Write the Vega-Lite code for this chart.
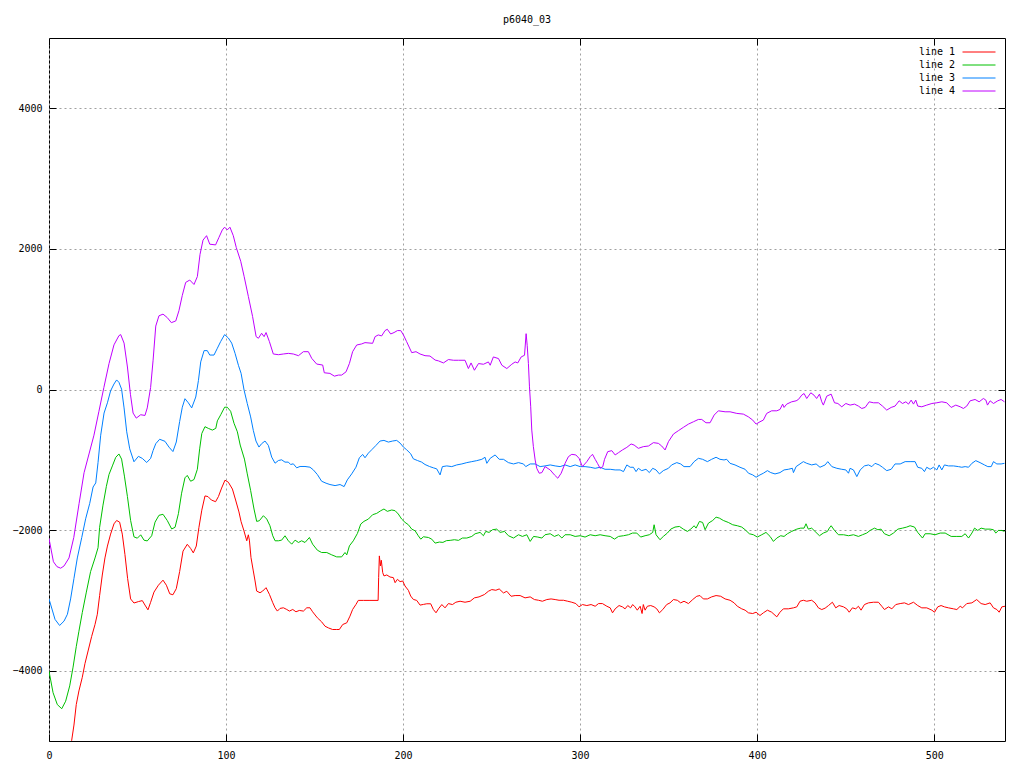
{
"$schema":"https://vega.github.io/schema/vega-lite/v6.json",
"width":956,"height":703,
"autosize":{"type":"none"},
"padding":{"left":49,"top":38,"right":19,"bottom":27},
"background":"white",
"title":{"text":"p6040_03","font":"DejaVu Sans Mono","fontSize":10,"fontWeight":"normal","color":"black","offset":13,"anchor":"middle"},
"config":{"view":{"stroke":"black","strokeWidth":1},
"axis":{"labelFont":"DejaVu Sans Mono","labelFontSize":10,"labelColor":"black","tickColor":"black","tickSize":-7,"tickWidth":1,"gridColor":"#a0a0a0","gridDash":[2,3],"gridWidth":1,"domain":false,"title":null}},
"datasets":{"d":[
{"s":"line 1","x":0,"y":-5050},{"s":"line 1","x":3,"y":-5350},{"s":"line 1","x":6.5,"y":-5520},{"s":"line 1","x":10,"y":-5300},{"s":"line 1","x":12.8,"y":-4992},{"s":"line 1","x":14.1,"y":-4773},{"s":"line 1","x":15.4,"y":-4482},{"s":"line 1","x":16.9,"y":-4288},{"s":"line 1","x":18.8,"y":-4094},{"s":"line 1","x":20.3,"y":-3900},{"s":"line 1","x":22.2,"y":-3706},{"s":"line 1","x":24.1,"y":-3512},{"s":"line 1","x":26,"y":-3342},{"s":"line 1","x":27.3,"y":-3197},{"s":"line 1","x":28.6,"y":-2930},{"s":"line 1","x":30.1,"y":-2639},{"s":"line 1","x":31.6,"y":-2396},{"s":"line 1","x":33,"y":-2227},{"s":"line 1","x":34.8,"y":-2057},{"s":"line 1","x":36.7,"y":-1911},{"s":"line 1","x":38.2,"y":-1863},{"s":"line 1","x":39.9,"y":-1887},{"s":"line 1","x":41.4,"y":-2057},{"s":"line 1","x":42.9,"y":-2348},{"s":"line 1","x":44.4,"y":-2687},{"s":"line 1","x":46.1,"y":-2979},{"s":"line 1","x":48,"y":-3037},{"s":"line 1","x":50.5,"y":-3017},{"s":"line 1","x":52.7,"y":-3003},{"s":"line 1","x":54.2,"y":-3066},{"s":"line 1","x":55.9,"y":-3134},{"s":"line 1","x":57.4,"y":-3027},{"s":"line 1","x":59.3,"y":-2882},{"s":"line 1","x":61.8,"y":-2784},{"s":"line 1","x":64.4,"y":-2712},{"s":"line 1","x":66.3,"y":-2784},{"s":"line 1","x":68.2,"y":-2906},{"s":"line 1","x":70,"y":-2920},{"s":"line 1","x":71.9,"y":-2833},{"s":"line 1","x":73.8,"y":-2590},{"s":"line 1","x":75.7,"y":-2299},{"s":"line 1","x":78.1,"y":-2202},{"s":"line 1","x":80,"y":-2261},{"s":"line 1","x":81.5,"y":-2324},{"s":"line 1","x":83.2,"y":-2227},{"s":"line 1","x":84.7,"y":-1960},{"s":"line 1","x":86.3,"y":-1717},{"s":"line 1","x":88.1,"y":-1514},{"s":"line 1","x":89.8,"y":-1523},{"s":"line 1","x":91.7,"y":-1572},{"s":"line 1","x":94.1,"y":-1596},{"s":"line 1","x":95.7,"y":-1523},{"s":"line 1","x":97.5,"y":-1402},{"s":"line 1","x":99.4,"y":-1290},{"s":"line 1","x":101.3,"y":-1319},{"s":"line 1","x":103.6,"y":-1416},{"s":"line 1","x":105.4,"y":-1572},{"s":"line 1","x":107.3,"y":-1742},{"s":"line 1","x":108.5,"y":-1880},{"s":"line 1","x":110,"y":-2000},{"s":"line 1","x":111.7,"y":-2152},{"s":"line 1","x":112.6,"y":-2067},{"s":"line 1","x":113.2,"y":-2143},{"s":"line 1","x":114.1,"y":-2391},{"s":"line 1","x":115.4,"y":-2581},{"s":"line 1","x":116.4,"y":-2724},{"s":"line 1","x":117.3,"y":-2867},{"s":"line 1","x":119.2,"y":-2891},{"s":"line 1","x":120.7,"y":-2867},{"s":"line 1","x":122.6,"y":-2819},{"s":"line 1","x":124.5,"y":-2914},{"s":"line 1","x":126.4,"y":-3033},{"s":"line 1","x":127.7,"y":-3105},{"s":"line 1","x":129,"y":-3152},{"s":"line 1","x":130.5,"y":-3114},{"s":"line 1","x":132.4,"y":-3105},{"s":"line 1","x":134.3,"y":-3129},{"s":"line 1","x":135.8,"y":-3152},{"s":"line 1","x":137.7,"y":-3129},{"s":"line 1","x":139.5,"y":-3162},{"s":"line 1","x":141.4,"y":-3143},{"s":"line 1","x":143.7,"y":-3152},{"s":"line 1","x":145.6,"y":-3105},{"s":"line 1","x":147.4,"y":-3105},{"s":"line 1","x":148.9,"y":-3162},{"s":"line 1","x":151.6,"y":-3248},{"s":"line 1","x":154,"y":-3305},{"s":"line 1","x":155.9,"y":-3367},{"s":"line 1","x":157.8,"y":-3391},{"s":"line 1","x":160.2,"y":-3414},{"s":"line 1","x":162.5,"y":-3414},{"s":"line 1","x":164,"y":-3414},{"s":"line 1","x":165.9,"y":-3343},{"s":"line 1","x":168.2,"y":-3319},{"s":"line 1","x":170,"y":-3224},{"s":"line 1","x":171.5,"y":-3129},{"s":"line 1","x":173.4,"y":-3057},{"s":"line 1","x":174.7,"y":-3000},{"s":"line 1","x":177.6,"y":-3000},{"s":"line 1","x":181.3,"y":-3000},{"s":"line 1","x":185.9,"y":-3000},{"s":"line 1","x":186.2,"y":-2676},{"s":"line 1","x":186.6,"y":-2367},{"s":"line 1","x":187.2,"y":-2510},{"s":"line 1","x":187.7,"y":-2429},{"s":"line 1","x":188.5,"y":-2605},{"s":"line 1","x":189.2,"y":-2652},{"s":"line 1","x":190.8,"y":-2638},{"s":"line 1","x":192.6,"y":-2667},{"s":"line 1","x":194.5,"y":-2676},{"s":"line 1","x":195.5,"y":-2748},{"s":"line 1","x":196.8,"y":-2700},{"s":"line 1","x":198.3,"y":-2733},{"s":"line 1","x":199.8,"y":-2724},{"s":"line 1","x":201.1,"y":-2795},{"s":"line 1","x":203,"y":-2857},{"s":"line 1","x":204.3,"y":-2938},{"s":"line 1","x":205.8,"y":-2986},{"s":"line 1","x":207.7,"y":-3000},{"s":"line 1","x":209.6,"y":-3067},{"s":"line 1","x":211.5,"y":-3057},{"s":"line 1","x":213.4,"y":-3048},{"s":"line 1","x":215.6,"y":-3048},{"s":"line 1","x":217.1,"y":-3129},{"s":"line 1","x":218.6,"y":-3176},{"s":"line 1","x":220,"y":-3120},{"s":"line 1","x":221.9,"y":-3059},{"s":"line 1","x":223.7,"y":-3106},{"s":"line 1","x":225.6,"y":-3045},{"s":"line 1","x":227.9,"y":-3059},{"s":"line 1","x":229.8,"y":-3026},{"s":"line 1","x":232.2,"y":-3012},{"s":"line 1","x":235,"y":-3026},{"s":"line 1","x":237.9,"y":-3012},{"s":"line 1","x":240.3,"y":-2964},{"s":"line 1","x":242.9,"y":-2950},{"s":"line 1","x":245.9,"y":-2917},{"s":"line 1","x":248.2,"y":-2870},{"s":"line 1","x":250.1,"y":-2846},{"s":"line 1","x":252.4,"y":-2856},{"s":"line 1","x":254.3,"y":-2837},{"s":"line 1","x":256.7,"y":-2894},{"s":"line 1","x":258.6,"y":-2870},{"s":"line 1","x":261,"y":-2941},{"s":"line 1","x":263.3,"y":-2931},{"s":"line 1","x":266.1,"y":-2931},{"s":"line 1","x":268.9,"y":-2964},{"s":"line 1","x":271.8,"y":-2950},{"s":"line 1","x":274.2,"y":-2988},{"s":"line 1","x":276.5,"y":-2998},{"s":"line 1","x":278.7,"y":-3012},{"s":"line 1","x":281.2,"y":-2988},{"s":"line 1","x":283.6,"y":-2979},{"s":"line 1","x":285.9,"y":-2988},{"s":"line 1","x":288.1,"y":-2998},{"s":"line 1","x":290.6,"y":-2998},{"s":"line 1","x":293,"y":-3012},{"s":"line 1","x":295.3,"y":-3026},{"s":"line 1","x":297.6,"y":-3045},{"s":"line 1","x":299.4,"y":-3092},{"s":"line 1","x":301.3,"y":-3059},{"s":"line 1","x":303.8,"y":-3073},{"s":"line 1","x":306.2,"y":-3059},{"s":"line 1","x":308.5,"y":-3083},{"s":"line 1","x":310.4,"y":-3045},{"s":"line 1","x":312.6,"y":-3045},{"s":"line 1","x":315.1,"y":-3083},{"s":"line 1","x":317,"y":-3106},{"s":"line 1","x":318.3,"y":-3177},{"s":"line 1","x":319.8,"y":-3120},{"s":"line 1","x":322,"y":-3073},{"s":"line 1","x":323.9,"y":-3092},{"s":"line 1","x":325.4,"y":-3120},{"s":"line 1","x":326.9,"y":-3073},{"s":"line 1","x":328.5,"y":-3106},{"s":"line 1","x":329.7,"y":-3059},{"s":"line 1","x":331,"y":-3092},{"s":"line 1","x":332.3,"y":-3139},{"s":"line 1","x":333.9,"y":-3083},{"s":"line 1","x":335,"y":-3187},{"s":"line 1","x":335.7,"y":-3059},{"s":"line 1","x":336.7,"y":-3139},{"s":"line 1","x":338,"y":-3083},{"s":"line 1","x":339.9,"y":-3073},{"s":"line 1","x":341.8,"y":-3092},{"s":"line 1","x":343.3,"y":-3120},{"s":"line 1","x":344.8,"y":-3177},{"s":"line 1","x":346.7,"y":-3130},{"s":"line 1","x":348.9,"y":-3059},{"s":"line 1","x":350.8,"y":-3035},{"s":"line 1","x":352.7,"y":-2988},{"s":"line 1","x":354.9,"y":-2998},{"s":"line 1","x":356.8,"y":-3035},{"s":"line 1","x":358.7,"y":-3012},{"s":"line 1","x":361.2,"y":-3045},{"s":"line 1","x":363.6,"y":-2988},{"s":"line 1","x":365.9,"y":-2941},{"s":"line 1","x":367.7,"y":-2931},{"s":"line 1","x":369.6,"y":-2979},{"s":"line 1","x":371.9,"y":-2979},{"s":"line 1","x":374.3,"y":-2950},{"s":"line 1","x":376.8,"y":-2931},{"s":"line 1","x":379.4,"y":-2941},{"s":"line 1","x":381.9,"y":-2979},{"s":"line 1","x":384.7,"y":-2998},{"s":"line 1","x":387,"y":-3035},{"s":"line 1","x":388.8,"y":-3083},{"s":"line 1","x":391.3,"y":-3120},{"s":"line 1","x":393.2,"y":-3139},{"s":"line 1","x":395.1,"y":-3177},{"s":"line 1","x":397.5,"y":-3187},{"s":"line 1","x":399.4,"y":-3168},{"s":"line 1","x":401.6,"y":-3215},{"s":"line 1","x":403.5,"y":-3177},{"s":"line 1","x":405.8,"y":-3139},{"s":"line 1","x":408.2,"y":-3168},{"s":"line 1","x":411.1,"y":-3234},{"s":"line 1","x":412.9,"y":-3168},{"s":"line 1","x":414.8,"y":-3120},{"s":"line 1","x":417.6,"y":-3120},{"s":"line 1","x":420.5,"y":-3106},{"s":"line 1","x":422.4,"y":-3092},{"s":"line 1","x":424.2,"y":-3012},{"s":"line 1","x":426.1,"y":-2998},{"s":"line 1","x":428,"y":-3012},{"s":"line 1","x":430.8,"y":-2998},{"s":"line 1","x":432.7,"y":-3035},{"s":"line 1","x":434.6,"y":-3106},{"s":"line 1","x":436.5,"y":-3130},{"s":"line 1","x":438.4,"y":-3110},{"s":"line 1","x":440.3,"y":-3073},{"s":"line 1","x":442.5,"y":-3026},{"s":"line 1","x":444.4,"y":-3106},{"s":"line 1","x":446.3,"y":-3073},{"s":"line 1","x":448.8,"y":-3092},{"s":"line 1","x":450.6,"y":-3120},{"s":"line 1","x":452,"y":-3168},{"s":"line 1","x":453.8,"y":-3106},{"s":"line 1","x":455.7,"y":-3120},{"s":"line 1","x":457.2,"y":-3083},{"s":"line 1","x":458.7,"y":-3139},{"s":"line 1","x":460.6,"y":-3059},{"s":"line 1","x":462.9,"y":-3035},{"s":"line 1","x":465.7,"y":-3026},{"s":"line 1","x":468.5,"y":-3026},{"s":"line 1","x":470.4,"y":-3083},{"s":"line 1","x":471.9,"y":-3130},{"s":"line 1","x":474.2,"y":-3092},{"s":"line 1","x":476.1,"y":-3120},{"s":"line 1","x":478.3,"y":-3059},{"s":"line 1","x":480.8,"y":-3045},{"s":"line 1","x":483.2,"y":-3035},{"s":"line 1","x":485.5,"y":-3059},{"s":"line 1","x":488.3,"y":-3026},{"s":"line 1","x":490.7,"y":-3073},{"s":"line 1","x":493,"y":-3106},{"s":"line 1","x":495.8,"y":-3106},{"s":"line 1","x":498.7,"y":-3139},{"s":"line 1","x":500.2,"y":-3168},{"s":"line 1","x":502,"y":-3092},{"s":"line 1","x":503.9,"y":-3073},{"s":"line 1","x":505.8,"y":-3092},{"s":"line 1","x":508.1,"y":-3106},{"s":"line 1","x":510.9,"y":-3120},{"s":"line 1","x":512.8,"y":-3130},{"s":"line 1","x":514.7,"y":-3083},{"s":"line 1","x":516,"y":-3106},{"s":"line 1","x":518.4,"y":-3045},{"s":"line 1","x":521.3,"y":-3035},{"s":"line 1","x":524,"y":-2988},{"s":"line 1","x":526.5,"y":-3045},{"s":"line 1","x":528.8,"y":-3059},{"s":"line 1","x":531.6,"y":-3035},{"s":"line 1","x":533.5,"y":-3106},{"s":"line 1","x":535.4,"y":-3130},{"s":"line 1","x":536.7,"y":-3168},{"s":"line 1","x":538.2,"y":-3092},{"s":"line 1","x":540,"y":-3083},
{"s":"line 2","x":0,"y":-4007},{"s":"line 2","x":2.3,"y":-4313},{"s":"line 2","x":4.7,"y":-4482},{"s":"line 2","x":7.2,"y":-4541},{"s":"line 2","x":9.4,"y":-4434},{"s":"line 2","x":11.7,"y":-4216},{"s":"line 2","x":13.6,"y":-3949},{"s":"line 2","x":15.4,"y":-3658},{"s":"line 2","x":16.9,"y":-3439},{"s":"line 2","x":18.8,"y":-3173},{"s":"line 2","x":21.1,"y":-2882},{"s":"line 2","x":23.5,"y":-2590},{"s":"line 2","x":26,"y":-2396},{"s":"line 2","x":27.7,"y":-2251},{"s":"line 2","x":28.6,"y":-1960},{"s":"line 2","x":30.5,"y":-1645},{"s":"line 2","x":32.4,"y":-1378},{"s":"line 2","x":33.9,"y":-1208},{"s":"line 2","x":35.8,"y":-1087},{"s":"line 2","x":37.7,"y":-965},{"s":"line 2","x":39.5,"y":-917},{"s":"line 2","x":41,"y":-990},{"s":"line 2","x":42.6,"y":-1232},{"s":"line 2","x":44.3,"y":-1523},{"s":"line 2","x":46.1,"y":-1863},{"s":"line 2","x":48,"y":-2096},{"s":"line 2","x":49.9,"y":-2115},{"s":"line 2","x":51.8,"y":-2067},{"s":"line 2","x":53.7,"y":-2144},{"s":"line 2","x":55.5,"y":-2154},{"s":"line 2","x":58,"y":-2081},{"s":"line 2","x":59.9,"y":-1887},{"s":"line 2","x":62.1,"y":-1790},{"s":"line 2","x":64.4,"y":-1775},{"s":"line 2","x":66.8,"y":-1863},{"s":"line 2","x":69.3,"y":-1984},{"s":"line 2","x":71.2,"y":-1960},{"s":"line 2","x":73.1,"y":-1766},{"s":"line 2","x":74.9,"y":-1475},{"s":"line 2","x":76.8,"y":-1256},{"s":"line 2","x":78.1,"y":-1222},{"s":"line 2","x":80,"y":-1305},{"s":"line 2","x":81.9,"y":-1281},{"s":"line 2","x":83.8,"y":-1135},{"s":"line 2","x":85.1,"y":-844},{"s":"line 2","x":86.3,"y":-626},{"s":"line 2","x":88.1,"y":-529},{"s":"line 2","x":90,"y":-553},{"s":"line 2","x":92.3,"y":-577},{"s":"line 2","x":94.2,"y":-553},{"s":"line 2","x":95.1,"y":-446},{"s":"line 2","x":97,"y":-359},{"s":"line 2","x":99.2,"y":-252},{"s":"line 2","x":100.7,"y":-252},{"s":"line 2","x":102.6,"y":-310},{"s":"line 2","x":104.5,"y":-480},{"s":"line 2","x":106.4,"y":-602},{"s":"line 2","x":108,"y":-790},{"s":"line 2","x":110.4,"y":-990},{"s":"line 2","x":112,"y":-1200},{"s":"line 2","x":113.9,"y":-1438},{"s":"line 2","x":115.8,"y":-1700},{"s":"line 2","x":117.3,"y":-1876},{"s":"line 2","x":118.8,"y":-1867},{"s":"line 2","x":121.1,"y":-1795},{"s":"line 2","x":123,"y":-1843},{"s":"line 2","x":124.8,"y":-1938},{"s":"line 2","x":126.4,"y":-2081},{"s":"line 2","x":127.7,"y":-2152},{"s":"line 2","x":129.6,"y":-2152},{"s":"line 2","x":131.4,"y":-2143},{"s":"line 2","x":133.3,"y":-2081},{"s":"line 2","x":135.2,"y":-2152},{"s":"line 2","x":137.1,"y":-2200},{"s":"line 2","x":139,"y":-2143},{"s":"line 2","x":140.9,"y":-2176},{"s":"line 2","x":142.7,"y":-2152},{"s":"line 2","x":144.6,"y":-2176},{"s":"line 2","x":147.1,"y":-2105},{"s":"line 2","x":148.9,"y":-2200},{"s":"line 2","x":151.6,"y":-2286},{"s":"line 2","x":154,"y":-2319},{"s":"line 2","x":156.9,"y":-2319},{"s":"line 2","x":159.7,"y":-2352},{"s":"line 2","x":162.5,"y":-2381},{"s":"line 2","x":165.3,"y":-2381},{"s":"line 2","x":167.2,"y":-2319},{"s":"line 2","x":168.2,"y":-2352},{"s":"line 2","x":169.7,"y":-2224},{"s":"line 2","x":171.9,"y":-2152},{"s":"line 2","x":174.2,"y":-2048},{"s":"line 2","x":176.1,"y":-1914},{"s":"line 2","x":177.9,"y":-1876},{"s":"line 2","x":180.4,"y":-1843},{"s":"line 2","x":182.8,"y":-1781},{"s":"line 2","x":185.1,"y":-1762},{"s":"line 2","x":187.4,"y":-1724},{"s":"line 2","x":189.2,"y":-1700},{"s":"line 2","x":191.1,"y":-1733},{"s":"line 2","x":193.6,"y":-1714},{"s":"line 2","x":195.5,"y":-1724},{"s":"line 2","x":197.3,"y":-1771},{"s":"line 2","x":199.2,"y":-1843},{"s":"line 2","x":201.1,"y":-1890},{"s":"line 2","x":203,"y":-1924},{"s":"line 2","x":204.9,"y":-1986},{"s":"line 2","x":206.8,"y":-2010},{"s":"line 2","x":208.6,"y":-2081},{"s":"line 2","x":210,"y":-2129},{"s":"line 2","x":211.5,"y":-2095},{"s":"line 2","x":214.3,"y":-2105},{"s":"line 2","x":216.2,"y":-2129},{"s":"line 2","x":218.1,"y":-2185},{"s":"line 2","x":220.5,"y":-2170},{"s":"line 2","x":222.5,"y":-2175},{"s":"line 2","x":224.5,"y":-2150},{"s":"line 2","x":226.6,"y":-2146},{"s":"line 2","x":229,"y":-2137},{"s":"line 2","x":231.3,"y":-2146},{"s":"line 2","x":233.5,"y":-2113},{"s":"line 2","x":236,"y":-2113},{"s":"line 2","x":238.8,"y":-2090},{"s":"line 2","x":240.7,"y":-2052},{"s":"line 2","x":243.5,"y":-2033},{"s":"line 2","x":245.4,"y":-2080},{"s":"line 2","x":246.7,"y":-2019},{"s":"line 2","x":248.6,"y":-2033},{"s":"line 2","x":250.5,"y":-1995},{"s":"line 2","x":252.9,"y":-1986},{"s":"line 2","x":254.8,"y":-2033},{"s":"line 2","x":257.3,"y":-2019},{"s":"line 2","x":259.5,"y":-2080},{"s":"line 2","x":262.4,"y":-2113},{"s":"line 2","x":265.2,"y":-2066},{"s":"line 2","x":267.4,"y":-2090},{"s":"line 2","x":269.9,"y":-2066},{"s":"line 2","x":271.8,"y":-2161},{"s":"line 2","x":273.7,"y":-2090},{"s":"line 2","x":276.1,"y":-2099},{"s":"line 2","x":278.4,"y":-2113},{"s":"line 2","x":280.2,"y":-2066},{"s":"line 2","x":283.1,"y":-2052},{"s":"line 2","x":285.5,"y":-2090},{"s":"line 2","x":287.8,"y":-2066},{"s":"line 2","x":289.7,"y":-2113},{"s":"line 2","x":291.5,"y":-2066},{"s":"line 2","x":294.4,"y":-2066},{"s":"line 2","x":297.2,"y":-2090},{"s":"line 2","x":300,"y":-2080},{"s":"line 2","x":302.8,"y":-2099},{"s":"line 2","x":305.7,"y":-2066},{"s":"line 2","x":308.5,"y":-2080},{"s":"line 2","x":311.3,"y":-2066},{"s":"line 2","x":314.1,"y":-2080},{"s":"line 2","x":317,"y":-2090},{"s":"line 2","x":319.4,"y":-2128},{"s":"line 2","x":321.7,"y":-2090},{"s":"line 2","x":324.5,"y":-2080},{"s":"line 2","x":327.3,"y":-2066},{"s":"line 2","x":329.6,"y":-2042},{"s":"line 2","x":332,"y":-2042},{"s":"line 2","x":334.2,"y":-2099},{"s":"line 2","x":336.7,"y":-2080},{"s":"line 2","x":339.1,"y":-2066},{"s":"line 2","x":341,"y":-2033},{"s":"line 2","x":341.8,"y":-1924},{"s":"line 2","x":342.9,"y":-2066},{"s":"line 2","x":345.1,"y":-2137},{"s":"line 2","x":347,"y":-2090},{"s":"line 2","x":349.3,"y":-2042},{"s":"line 2","x":351.2,"y":-1986},{"s":"line 2","x":353.6,"y":-1957},{"s":"line 2","x":356.1,"y":-1948},{"s":"line 2","x":358.3,"y":-1986},{"s":"line 2","x":360.6,"y":-2019},{"s":"line 2","x":362.5,"y":-1986},{"s":"line 2","x":364.4,"y":-1938},{"s":"line 2","x":365.5,"y":-1972},{"s":"line 2","x":367.4,"y":-1877},{"s":"line 2","x":369.2,"y":-1891},{"s":"line 2","x":370.6,"y":-1995},{"s":"line 2","x":372.5,"y":-1901},{"s":"line 2","x":374.9,"y":-1863},{"s":"line 2","x":376.8,"y":-1816},{"s":"line 2","x":378.7,"y":-1830},{"s":"line 2","x":380.9,"y":-1863},{"s":"line 2","x":383.7,"y":-1891},{"s":"line 2","x":386.2,"y":-1924},{"s":"line 2","x":388.8,"y":-1938},{"s":"line 2","x":391.3,"y":-1957},{"s":"line 2","x":393.2,"y":-1995},{"s":"line 2","x":395.6,"y":-2052},{"s":"line 2","x":397.9,"y":-2066},{"s":"line 2","x":400.1,"y":-2099},{"s":"line 2","x":402.6,"y":-2066},{"s":"line 2","x":405,"y":-2033},{"s":"line 2","x":407.3,"y":-2090},{"s":"line 2","x":409.2,"y":-2161},{"s":"line 2","x":411.1,"y":-2113},{"s":"line 2","x":413.3,"y":-2080},{"s":"line 2","x":415.2,"y":-2090},{"s":"line 2","x":417.1,"y":-2052},{"s":"line 2","x":419.5,"y":-2019},{"s":"line 2","x":422.4,"y":-1986},{"s":"line 2","x":424.6,"y":-1972},{"s":"line 2","x":426.5,"y":-1972},{"s":"line 2","x":427.6,"y":-1910},{"s":"line 2","x":428.9,"y":-1986},{"s":"line 2","x":430.8,"y":-1972},{"s":"line 2","x":432.7,"y":-2019},{"s":"line 2","x":435.2,"y":-2080},{"s":"line 2","x":437.4,"y":-2042},{"s":"line 2","x":439.7,"y":-2019},{"s":"line 2","x":440.8,"y":-1970},{"s":"line 2","x":441.8,"y":-1938},{"s":"line 2","x":443.7,"y":-2005},{"s":"line 2","x":445.9,"y":-2066},{"s":"line 2","x":448.8,"y":-2066},{"s":"line 2","x":451.6,"y":-2080},{"s":"line 2","x":454.4,"y":-2066},{"s":"line 2","x":457.2,"y":-2090},{"s":"line 2","x":459.5,"y":-2066},{"s":"line 2","x":461.9,"y":-2042},{"s":"line 2","x":463.8,"y":-2005},{"s":"line 2","x":466.3,"y":-1972},{"s":"line 2","x":468.2,"y":-1995},{"s":"line 2","x":470,"y":-1986},{"s":"line 2","x":471.9,"y":-2052},{"s":"line 2","x":474.6,"y":-2080},{"s":"line 2","x":477,"y":-2042},{"s":"line 2","x":479.5,"y":-1986},{"s":"line 2","x":482.1,"y":-1972},{"s":"line 2","x":484.5,"y":-1957},{"s":"line 2","x":486.4,"y":-1938},{"s":"line 2","x":488.9,"y":-1957},{"s":"line 2","x":490.7,"y":-2033},{"s":"line 2","x":493.4,"y":-2113},{"s":"line 2","x":494.9,"y":-2052},{"s":"line 2","x":497.7,"y":-2052},{"s":"line 2","x":500.5,"y":-2066},{"s":"line 2","x":503.4,"y":-2042},{"s":"line 2","x":506.2,"y":-2042},{"s":"line 2","x":509.6,"y":-2090},{"s":"line 2","x":512.8,"y":-2090},{"s":"line 2","x":515.6,"y":-2090},{"s":"line 2","x":517.5,"y":-2052},{"s":"line 2","x":519.4,"y":-2113},{"s":"line 2","x":521.3,"y":-2042},{"s":"line 2","x":522.8,"y":-1972},{"s":"line 2","x":524.6,"y":-2005},{"s":"line 2","x":526.5,"y":-1972},{"s":"line 2","x":528.8,"y":-1986},{"s":"line 2","x":531.6,"y":-1986},{"s":"line 2","x":533.5,"y":-1995},{"s":"line 2","x":534.8,"y":-2042},{"s":"line 2","x":536.3,"y":-2005},{"s":"line 2","x":538.2,"y":-2005},{"s":"line 2","x":539.7,"y":-2019},
{"s":"line 3","x":0,"y":-2979},{"s":"line 3","x":3.4,"y":-3270},{"s":"line 3","x":6,"y":-3357},{"s":"line 3","x":8.5,"y":-3294},{"s":"line 3","x":10.4,"y":-3197},{"s":"line 3","x":12.2,"y":-2979},{"s":"line 3","x":14.1,"y":-2687},{"s":"line 3","x":16,"y":-2396},{"s":"line 3","x":18.5,"y":-2105},{"s":"line 3","x":20.7,"y":-1839},{"s":"line 3","x":23,"y":-1620},{"s":"line 3","x":24.9,"y":-1387},{"s":"line 3","x":26.4,"y":-1329},{"s":"line 3","x":27.7,"y":-1038},{"s":"line 3","x":29.2,"y":-650},{"s":"line 3","x":31.1,"y":-335},{"s":"line 3","x":33,"y":-189},{"s":"line 3","x":34.8,"y":-19},{"s":"line 3","x":36.7,"y":78},{"s":"line 3","x":38.2,"y":136},{"s":"line 3","x":39.5,"y":102},{"s":"line 3","x":41,"y":5},{"s":"line 3","x":42.4,"y":-262},{"s":"line 3","x":43.9,"y":-602},{"s":"line 3","x":45.6,"y":-844},{"s":"line 3","x":48,"y":-1028},{"s":"line 3","x":50.5,"y":-951},{"s":"line 3","x":52.7,"y":-980},{"s":"line 3","x":55.2,"y":-1038},{"s":"line 3","x":57.4,"y":-980},{"s":"line 3","x":58.8,"y":-868},{"s":"line 3","x":60.3,"y":-771},{"s":"line 3","x":62.5,"y":-708},{"s":"line 3","x":65.5,"y":-737},{"s":"line 3","x":67.8,"y":-820},{"s":"line 3","x":70,"y":-883},{"s":"line 3","x":71.9,"y":-747},{"s":"line 3","x":73.8,"y":-456},{"s":"line 3","x":75.3,"y":-252},{"s":"line 3","x":76.8,"y":-131},{"s":"line 3","x":78.7,"y":-189},{"s":"line 3","x":80.6,"y":-262},{"s":"line 3","x":82.9,"y":-107},{"s":"line 3","x":84.4,"y":126},{"s":"line 3","x":85.7,"y":393},{"s":"line 3","x":87.6,"y":553},{"s":"line 3","x":89.4,"y":553},{"s":"line 3","x":90.8,"y":490},{"s":"line 3","x":93.2,"y":490},{"s":"line 3","x":95.1,"y":587},{"s":"line 3","x":97,"y":684},{"s":"line 3","x":99.2,"y":781},{"s":"line 3","x":101.3,"y":733},{"s":"line 3","x":103.2,"y":660},{"s":"line 3","x":105.1,"y":514},{"s":"line 3","x":107,"y":344},{"s":"line 3","x":108.5,"y":230},{"s":"line 3","x":110.2,"y":-10},{"s":"line 3","x":112,"y":-200},{"s":"line 3","x":113.9,"y":-390},{"s":"line 3","x":115.4,"y":-581},{"s":"line 3","x":116.9,"y":-733},{"s":"line 3","x":118.6,"y":-819},{"s":"line 3","x":120.1,"y":-771},{"s":"line 3","x":122,"y":-733},{"s":"line 3","x":123.9,"y":-795},{"s":"line 3","x":125.8,"y":-962},{"s":"line 3","x":127.7,"y":-1048},{"s":"line 3","x":129.6,"y":-1010},{"s":"line 3","x":131.4,"y":-1000},{"s":"line 3","x":133.3,"y":-1033},{"s":"line 3","x":135.2,"y":-1033},{"s":"line 3","x":136.5,"y":-1067},{"s":"line 3","x":138,"y":-1057},{"s":"line 3","x":139.9,"y":-1114},{"s":"line 3","x":141.8,"y":-1095},{"s":"line 3","x":144.6,"y":-1095},{"s":"line 3","x":147.4,"y":-1105},{"s":"line 3","x":149.3,"y":-1143},{"s":"line 3","x":151.6,"y":-1210},{"s":"line 3","x":154,"y":-1305},{"s":"line 3","x":156.5,"y":-1333},{"s":"line 3","x":158.7,"y":-1352},{"s":"line 3","x":161.6,"y":-1367},{"s":"line 3","x":164.4,"y":-1352},{"s":"line 3","x":166.7,"y":-1381},{"s":"line 3","x":168.5,"y":-1286},{"s":"line 3","x":171,"y":-1200},{"s":"line 3","x":173.4,"y":-1105},{"s":"line 3","x":175.3,"y":-971},{"s":"line 3","x":177.2,"y":-924},{"s":"line 3","x":178.5,"y":-971},{"s":"line 3","x":180.4,"y":-905},{"s":"line 3","x":182.3,"y":-857},{"s":"line 3","x":184.7,"y":-795},{"s":"line 3","x":187,"y":-733},{"s":"line 3","x":189.2,"y":-724},{"s":"line 3","x":191.7,"y":-748},{"s":"line 3","x":194.1,"y":-733},{"s":"line 3","x":196.4,"y":-724},{"s":"line 3","x":198.3,"y":-762},{"s":"line 3","x":200.2,"y":-819},{"s":"line 3","x":202,"y":-857},{"s":"line 3","x":204.3,"y":-914},{"s":"line 3","x":205.8,"y":-986},{"s":"line 3","x":208.1,"y":-1010},{"s":"line 3","x":210.5,"y":-1033},{"s":"line 3","x":212.4,"y":-1067},{"s":"line 3","x":214.9,"y":-1095},{"s":"line 3","x":217.1,"y":-1114},{"s":"line 3","x":219,"y":-1129},{"s":"line 3","x":220.9,"y":-1215},{"s":"line 3","x":222.2,"y":-1097},{"s":"line 3","x":224.7,"y":-1087},{"s":"line 3","x":227.5,"y":-1097},{"s":"line 3","x":230.3,"y":-1073},{"s":"line 3","x":233.2,"y":-1059},{"s":"line 3","x":236,"y":-1040},{"s":"line 3","x":238.8,"y":-1026},{"s":"line 3","x":241.6,"y":-1012},{"s":"line 3","x":244.5,"y":-993},{"s":"line 3","x":246.3,"y":-964},{"s":"line 3","x":247.3,"y":-1050},{"s":"line 3","x":249.2,"y":-979},{"s":"line 3","x":252,"y":-931},{"s":"line 3","x":254.3,"y":-993},{"s":"line 3","x":256.7,"y":-993},{"s":"line 3","x":259.5,"y":-1040},{"s":"line 3","x":262.4,"y":-1059},{"s":"line 3","x":265.2,"y":-1040},{"s":"line 3","x":268,"y":-1059},{"s":"line 3","x":269.3,"y":-1097},{"s":"line 3","x":271.8,"y":-1059},{"s":"line 3","x":274.6,"y":-1059},{"s":"line 3","x":277.4,"y":-1097},{"s":"line 3","x":280.2,"y":-1087},{"s":"line 3","x":283.1,"y":-1073},{"s":"line 3","x":285.9,"y":-1087},{"s":"line 3","x":288.7,"y":-1097},{"s":"line 3","x":291.5,"y":-1073},{"s":"line 3","x":294.4,"y":-1097},{"s":"line 3","x":297.2,"y":-1073},{"s":"line 3","x":300,"y":-1097},{"s":"line 3","x":302.8,"y":-1097},{"s":"line 3","x":305.7,"y":-1106},{"s":"line 3","x":308.5,"y":-1121},{"s":"line 3","x":311.3,"y":-1106},{"s":"line 3","x":314.1,"y":-1135},{"s":"line 3","x":317,"y":-1135},{"s":"line 3","x":319.8,"y":-1144},{"s":"line 3","x":322.6,"y":-1144},{"s":"line 3","x":324.5,"y":-1168},{"s":"line 3","x":326.4,"y":-1073},{"s":"line 3","x":328.3,"y":-1106},{"s":"line 3","x":330.1,"y":-1106},{"s":"line 3","x":331.6,"y":-1168},{"s":"line 3","x":332.9,"y":-1121},{"s":"line 3","x":334.8,"y":-1154},{"s":"line 3","x":337.2,"y":-1135},{"s":"line 3","x":339.1,"y":-1182},{"s":"line 3","x":341,"y":-1121},{"s":"line 3","x":342.9,"y":-1144},{"s":"line 3","x":344.8,"y":-1201},{"s":"line 3","x":347,"y":-1154},{"s":"line 3","x":349.9,"y":-1121},{"s":"line 3","x":351.7,"y":-1073},{"s":"line 3","x":354.6,"y":-1040},{"s":"line 3","x":356.8,"y":-1059},{"s":"line 3","x":358.7,"y":-1097},{"s":"line 3","x":362.1,"y":-1097},{"s":"line 3","x":364.4,"y":-1026},{"s":"line 3","x":366.8,"y":-979},{"s":"line 3","x":369.2,"y":-993},{"s":"line 3","x":371.9,"y":-1026},{"s":"line 3","x":374.3,"y":-993},{"s":"line 3","x":376.8,"y":-964},{"s":"line 3","x":379,"y":-993},{"s":"line 3","x":381.3,"y":-1002},{"s":"line 3","x":382.8,"y":-993},{"s":"line 3","x":384.7,"y":-1050},{"s":"line 3","x":387.5,"y":-1073},{"s":"line 3","x":390.3,"y":-1106},{"s":"line 3","x":393.2,"y":-1135},{"s":"line 3","x":395.1,"y":-1191},{"s":"line 3","x":397.5,"y":-1215},{"s":"line 3","x":399.4,"y":-1248},{"s":"line 3","x":401.6,"y":-1215},{"s":"line 3","x":403.5,"y":-1191},{"s":"line 3","x":405.8,"y":-1154},{"s":"line 3","x":407.7,"y":-1182},{"s":"line 3","x":410.1,"y":-1201},{"s":"line 3","x":412.9,"y":-1182},{"s":"line 3","x":415.2,"y":-1144},{"s":"line 3","x":417.6,"y":-1135},{"s":"line 3","x":419.9,"y":-1121},{"s":"line 3","x":420.5,"y":-1182},{"s":"line 3","x":422,"y":-1097},{"s":"line 3","x":424.2,"y":-1059},{"s":"line 3","x":426.1,"y":-1026},{"s":"line 3","x":428,"y":-1050},{"s":"line 3","x":430.8,"y":-1073},{"s":"line 3","x":433.3,"y":-1059},{"s":"line 3","x":435.5,"y":-1106},{"s":"line 3","x":438.4,"y":-1073},{"s":"line 3","x":439.9,"y":-1026},{"s":"line 3","x":442.2,"y":-1097},{"s":"line 3","x":445,"y":-1121},{"s":"line 3","x":447.8,"y":-1135},{"s":"line 3","x":450.1,"y":-1144},{"s":"line 3","x":451.6,"y":-1191},{"s":"line 3","x":452.5,"y":-1121},{"s":"line 3","x":454.4,"y":-1144},{"s":"line 3","x":456.3,"y":-1239},{"s":"line 3","x":458.2,"y":-1144},{"s":"line 3","x":460.6,"y":-1087},{"s":"line 3","x":462.9,"y":-1073},{"s":"line 3","x":464.8,"y":-1097},{"s":"line 3","x":466.6,"y":-1050},{"s":"line 3","x":468.9,"y":-1073},{"s":"line 3","x":470.8,"y":-1106},{"s":"line 3","x":473.2,"y":-1154},{"s":"line 3","x":475.7,"y":-1135},{"s":"line 3","x":477.9,"y":-1059},{"s":"line 3","x":480.8,"y":-1059},{"s":"line 3","x":483.6,"y":-1026},{"s":"line 3","x":486.4,"y":-1026},{"s":"line 3","x":489.2,"y":-1026},{"s":"line 3","x":490.7,"y":-1106},{"s":"line 3","x":493,"y":-1121},{"s":"line 3","x":494.5,"y":-1168},{"s":"line 3","x":495.8,"y":-1106},{"s":"line 3","x":497.7,"y":-1135},{"s":"line 3","x":499.6,"y":-1106},{"s":"line 3","x":501.5,"y":-1144},{"s":"line 3","x":502.8,"y":-1073},{"s":"line 3","x":504.3,"y":-1144},{"s":"line 3","x":505.8,"y":-1073},{"s":"line 3","x":508.1,"y":-1087},{"s":"line 3","x":510.9,"y":-1087},{"s":"line 3","x":513.7,"y":-1097},{"s":"line 3","x":515.6,"y":-1106},{"s":"line 3","x":517.5,"y":-1097},{"s":"line 3","x":519.4,"y":-1106},{"s":"line 3","x":521.3,"y":-1050},{"s":"line 3","x":523.5,"y":-1012},{"s":"line 3","x":525.9,"y":-1040},{"s":"line 3","x":528.4,"y":-1073},{"s":"line 3","x":530.3,"y":-1097},{"s":"line 3","x":532.2,"y":-1097},{"s":"line 3","x":533.5,"y":-1026},{"s":"line 3","x":535.4,"y":-1059},{"s":"line 3","x":537.8,"y":-1059},{"s":"line 3","x":539.7,"y":-1050},
{"s":"line 4","x":0,"y":-2120},{"s":"line 4","x":2.5,"y":-2450},{"s":"line 4","x":4.5,"y":-2520},{"s":"line 4","x":6.6,"y":-2542},{"s":"line 4","x":8.5,"y":-2510},{"s":"line 4","x":11.3,"y":-2396},{"s":"line 4","x":14,"y":-2105},{"s":"line 4","x":17,"y":-1620},{"s":"line 4","x":19.8,"y":-1184},{"s":"line 4","x":22.6,"y":-917},{"s":"line 4","x":25.4,"y":-650},{"s":"line 4","x":28.2,"y":-310},{"s":"line 4","x":31,"y":29},{"s":"line 4","x":33.9,"y":369},{"s":"line 4","x":36.7,"y":635},{"s":"line 4","x":39.5,"y":766},{"s":"line 4","x":40.5,"y":781},{"s":"line 4","x":42.4,"y":660},{"s":"line 4","x":44.3,"y":320},{"s":"line 4","x":46,"y":-68},{"s":"line 4","x":47.5,"y":-335},{"s":"line 4","x":49.3,"y":-407},{"s":"line 4","x":51.8,"y":-359},{"s":"line 4","x":54.2,"y":-369},{"s":"line 4","x":55.5,"y":-262},{"s":"line 4","x":57.4,"y":29},{"s":"line 4","x":58.8,"y":417},{"s":"line 4","x":60.3,"y":902},{"s":"line 4","x":62.1,"y":1048},{"s":"line 4","x":64.4,"y":1072},{"s":"line 4","x":66.8,"y":1023},{"s":"line 4","x":69.1,"y":951},{"s":"line 4","x":71.6,"y":975},{"s":"line 4","x":73.4,"y":1121},{"s":"line 4","x":75.3,"y":1339},{"s":"line 4","x":77.2,"y":1523},{"s":"line 4","x":79.5,"y":1557},{"s":"line 4","x":81.9,"y":1494},{"s":"line 4","x":83.8,"y":1606},{"s":"line 4","x":85.3,"y":1921},{"s":"line 4","x":87,"y":2125},{"s":"line 4","x":89,"y":2188},{"s":"line 4","x":90.8,"y":2067},{"s":"line 4","x":94.1,"y":2057},{"s":"line 4","x":96,"y":2164},{"s":"line 4","x":97.9,"y":2270},{"s":"line 4","x":99.2,"y":2309},{"s":"line 4","x":100.7,"y":2270},{"s":"line 4","x":102.2,"y":2309},{"s":"line 4","x":104.1,"y":2188},{"s":"line 4","x":105.8,"y":2018},{"s":"line 4","x":108.3,"y":1824},{"s":"line 4","x":110.2,"y":1610},{"s":"line 4","x":112.6,"y":1324},{"s":"line 4","x":115,"y":1038},{"s":"line 4","x":117,"y":752},{"s":"line 4","x":118.3,"y":729},{"s":"line 4","x":120.1,"y":800},{"s":"line 4","x":121.5,"y":752},{"s":"line 4","x":122.6,"y":810},{"s":"line 4","x":124.5,"y":681},{"s":"line 4","x":126.7,"y":505},{"s":"line 4","x":129.6,"y":495},{"s":"line 4","x":132.4,"y":505},{"s":"line 4","x":135.2,"y":514},{"s":"line 4","x":138,"y":505},{"s":"line 4","x":140.9,"y":481},{"s":"line 4","x":143.7,"y":538},{"s":"line 4","x":146.5,"y":538},{"s":"line 4","x":148.4,"y":443},{"s":"line 4","x":151.2,"y":362},{"s":"line 4","x":154.6,"y":348},{"s":"line 4","x":155.5,"y":238},{"s":"line 4","x":158.7,"y":229},{"s":"line 4","x":161.2,"y":190},{"s":"line 4","x":163.5,"y":205},{"s":"line 4","x":165.3,"y":205},{"s":"line 4","x":167.8,"y":252},{"s":"line 4","x":169.7,"y":371},{"s":"line 4","x":171.5,"y":538},{"s":"line 4","x":173.8,"y":633},{"s":"line 4","x":176.6,"y":648},{"s":"line 4","x":178.5,"y":667},{"s":"line 4","x":182.8,"y":657},{"s":"line 4","x":184.2,"y":752},{"s":"line 4","x":186,"y":776},{"s":"line 4","x":187.9,"y":762},{"s":"line 4","x":189.8,"y":838},{"s":"line 4","x":191.1,"y":857},{"s":"line 4","x":193,"y":790},{"s":"line 4","x":194.9,"y":810},{"s":"line 4","x":196.8,"y":838},{"s":"line 4","x":198.7,"y":838},{"s":"line 4","x":200.2,"y":776},{"s":"line 4","x":202,"y":681},{"s":"line 4","x":204.9,"y":524},{"s":"line 4","x":207.3,"y":538},{"s":"line 4","x":209.6,"y":505},{"s":"line 4","x":212.4,"y":481},{"s":"line 4","x":215.2,"y":476},{"s":"line 4","x":218.1,"y":419},{"s":"line 4","x":220,"y":407},{"s":"line 4","x":222.8,"y":378},{"s":"line 4","x":225.6,"y":426},{"s":"line 4","x":228.5,"y":416},{"s":"line 4","x":231.3,"y":416},{"s":"line 4","x":235,"y":416},{"s":"line 4","x":236.9,"y":298},{"s":"line 4","x":238.4,"y":378},{"s":"line 4","x":240.3,"y":274},{"s":"line 4","x":242.6,"y":369},{"s":"line 4","x":245.4,"y":359},{"s":"line 4","x":248.2,"y":392},{"s":"line 4","x":249.2,"y":345},{"s":"line 4","x":251,"y":463},{"s":"line 4","x":253.9,"y":440},{"s":"line 4","x":255.8,"y":345},{"s":"line 4","x":258.6,"y":298},{"s":"line 4","x":261.4,"y":359},{"s":"line 4","x":263.3,"y":392},{"s":"line 4","x":264.8,"y":378},{"s":"line 4","x":266.7,"y":463},{"s":"line 4","x":268.6,"y":487},{"s":"line 4","x":269.5,"y":794},{"s":"line 4","x":270.1,"y":629},{"s":"line 4","x":270.8,"y":369},{"s":"line 4","x":271.4,"y":38},{"s":"line 4","x":272.1,"y":-246},{"s":"line 4","x":272.7,"y":-577},{"s":"line 4","x":273.6,"y":-813},{"s":"line 4","x":274.6,"y":-1002},{"s":"line 4","x":275.5,"y":-1121},{"s":"line 4","x":276.9,"y":-1191},{"s":"line 4","x":278.4,"y":-1182},{"s":"line 4","x":280.2,"y":-1097},{"s":"line 4","x":283.1,"y":-1144},{"s":"line 4","x":285.5,"y":-1215},{"s":"line 4","x":287.4,"y":-1262},{"s":"line 4","x":289.3,"y":-1191},{"s":"line 4","x":291.5,"y":-1050},{"s":"line 4","x":293.4,"y":-955},{"s":"line 4","x":295.3,"y":-922},{"s":"line 4","x":297.6,"y":-931},{"s":"line 4","x":299.4,"y":-979},{"s":"line 4","x":301.3,"y":-1097},{"s":"line 4","x":303.8,"y":-1026},{"s":"line 4","x":305.7,"y":-955},{"s":"line 4","x":307,"y":-922},{"s":"line 4","x":308.5,"y":-993},{"s":"line 4","x":309.8,"y":-1050},{"s":"line 4","x":311.3,"y":-1121},{"s":"line 4","x":312.8,"y":-1097},{"s":"line 4","x":313.8,"y":-993},{"s":"line 4","x":315.6,"y":-884},{"s":"line 4","x":317.9,"y":-870},{"s":"line 4","x":319.8,"y":-931},{"s":"line 4","x":321.7,"y":-898},{"s":"line 4","x":323.9,"y":-860},{"s":"line 4","x":326.4,"y":-823},{"s":"line 4","x":328.8,"y":-775},{"s":"line 4","x":330.5,"y":-790},{"s":"line 4","x":332.9,"y":-837},{"s":"line 4","x":335.7,"y":-813},{"s":"line 4","x":338.6,"y":-804},{"s":"line 4","x":341.4,"y":-756},{"s":"line 4","x":344.2,"y":-766},{"s":"line 4","x":346.1,"y":-804},{"s":"line 4","x":348,"y":-860},{"s":"line 4","x":349.9,"y":-742},{"s":"line 4","x":352.7,"y":-634},{"s":"line 4","x":355.5,"y":-586},{"s":"line 4","x":358.3,"y":-539},{"s":"line 4","x":361.2,"y":-492},{"s":"line 4","x":364,"y":-459},{"s":"line 4","x":366.8,"y":-426},{"s":"line 4","x":368.7,"y":-426},{"s":"line 4","x":371.1,"y":-473},{"s":"line 4","x":373.4,"y":-473},{"s":"line 4","x":375.7,"y":-364},{"s":"line 4","x":378.1,"y":-303},{"s":"line 4","x":381.9,"y":-317},{"s":"line 4","x":384.7,"y":-317},{"s":"line 4","x":388.5,"y":-340},{"s":"line 4","x":392.2,"y":-350},{"s":"line 4","x":395,"y":-388},{"s":"line 4","x":397.5,"y":-435},{"s":"line 4","x":399.4,"y":-492},{"s":"line 4","x":401.6,"y":-459},{"s":"line 4","x":403.5,"y":-435},{"s":"line 4","x":405.4,"y":-340},{"s":"line 4","x":408.2,"y":-303},{"s":"line 4","x":411.1,"y":-303},{"s":"line 4","x":412.9,"y":-284},{"s":"line 4","x":414.4,"y":-208},{"s":"line 4","x":415.2,"y":-255},{"s":"line 4","x":416.7,"y":-208},{"s":"line 4","x":419.5,"y":-175},{"s":"line 4","x":422,"y":-161},{"s":"line 4","x":423.3,"y":-142},{"s":"line 4","x":425.2,"y":-80},{"s":"line 4","x":426.5,"y":-57},{"s":"line 4","x":428,"y":-128},{"s":"line 4","x":430.3,"y":-47},{"s":"line 4","x":432.1,"y":-80},{"s":"line 4","x":433.6,"y":-128},{"s":"line 4","x":435.2,"y":-66},{"s":"line 4","x":436.5,"y":-175},{"s":"line 4","x":437.4,"y":-222},{"s":"line 4","x":439.3,"y":-95},{"s":"line 4","x":441.8,"y":-66},{"s":"line 4","x":443.7,"y":-189},{"s":"line 4","x":445.6,"y":-199},{"s":"line 4","x":447.8,"y":-246},{"s":"line 4","x":450.1,"y":-199},{"s":"line 4","x":452.5,"y":-222},{"s":"line 4","x":455,"y":-208},{"s":"line 4","x":457.2,"y":-236},{"s":"line 4","x":459.1,"y":-270},{"s":"line 4","x":461,"y":-255},{"s":"line 4","x":463.3,"y":-175},{"s":"line 4","x":465.7,"y":-189},{"s":"line 4","x":468.5,"y":-189},{"s":"line 4","x":470.8,"y":-236},{"s":"line 4","x":473.2,"y":-293},{"s":"line 4","x":475.7,"y":-255},{"s":"line 4","x":477.9,"y":-236},{"s":"line 4","x":480.2,"y":-161},{"s":"line 4","x":482.1,"y":-199},{"s":"line 4","x":484,"y":-175},{"s":"line 4","x":485.5,"y":-208},{"s":"line 4","x":487,"y":-151},{"s":"line 4","x":488.3,"y":-208},{"s":"line 4","x":489.6,"y":-151},{"s":"line 4","x":490.7,"y":-236},{"s":"line 4","x":493,"y":-246},{"s":"line 4","x":495.8,"y":-222},{"s":"line 4","x":498.7,"y":-199},{"s":"line 4","x":501.5,"y":-189},{"s":"line 4","x":504.3,"y":-175},{"s":"line 4","x":507.1,"y":-189},{"s":"line 4","x":509.6,"y":-255},{"s":"line 4","x":512.2,"y":-222},{"s":"line 4","x":514.7,"y":-246},{"s":"line 4","x":516.5,"y":-270},{"s":"line 4","x":518.4,"y":-236},{"s":"line 4","x":520.3,"y":-161},{"s":"line 4","x":523.1,"y":-142},{"s":"line 4","x":525.4,"y":-175},{"s":"line 4","x":527.8,"y":-128},{"s":"line 4","x":529.2,"y":-151},{"s":"line 4","x":530.1,"y":-222},{"s":"line 4","x":531.6,"y":-161},{"s":"line 4","x":533.5,"y":-199},{"s":"line 4","x":535.9,"y":-161},{"s":"line 4","x":537.8,"y":-142},{"s":"line 4","x":539.7,"y":-175}
],
"axisrow":[{}]},
"layer":[
{"data":{"name":"d"},
"mark":{"type":"line","clip":true,"strokeWidth":1},
"encoding":{
"x":{"field":"x","type":"quantitative","scale":{"domain":[0,540],"nice":false,"zero":false},"axis":{"orient":"bottom","values":[0,100,200,300,400,500],"grid":true,"labelPadding":16,"labelFlush":false}},
"y":{"field":"y","type":"quantitative","scale":{"domain":[-5000,5000],"nice":false,"zero":false},"axis":{"orient":"left","values":[-4000,-2000,0,2000,4000],"format":"d","grid":true,"labelPadding":14}},
"color":{"field":"s","type":"nominal","scale":{"domain":["line 1","line 2","line 3","line 4"],"range":["#ff0000","#00c000","#0080ff","#c000ff"]},
"legend":{"title":null,"orient":"none","legendX":924,"legendY":8,"padding":0,"symbolType":"M-3,0H3","symbolSize":121,"symbolStrokeWidth":1,"labelFont":"DejaVu Sans Mono","labelFontSize":10,"labelColor":"black","labelAlign":"right","labelOffset":-30,"rowPadding":2}}
}},
{"data":{"name":"axisrow"},
"mark":{"type":"rule","opacity":0},
"encoding":{
"x":{"datum":0,"type":"quantitative","axis":{"orient":"top","values":[0,100,200,300,400,500],"labels":false,"grid":false}},
"y":{"datum":0,"type":"quantitative","axis":{"orient":"right","values":[-4000,-2000,0,2000,4000],"labels":false,"grid":false}}
}}
],
"resolve":{"axis":{"x":"independent","y":"independent"}}
}
